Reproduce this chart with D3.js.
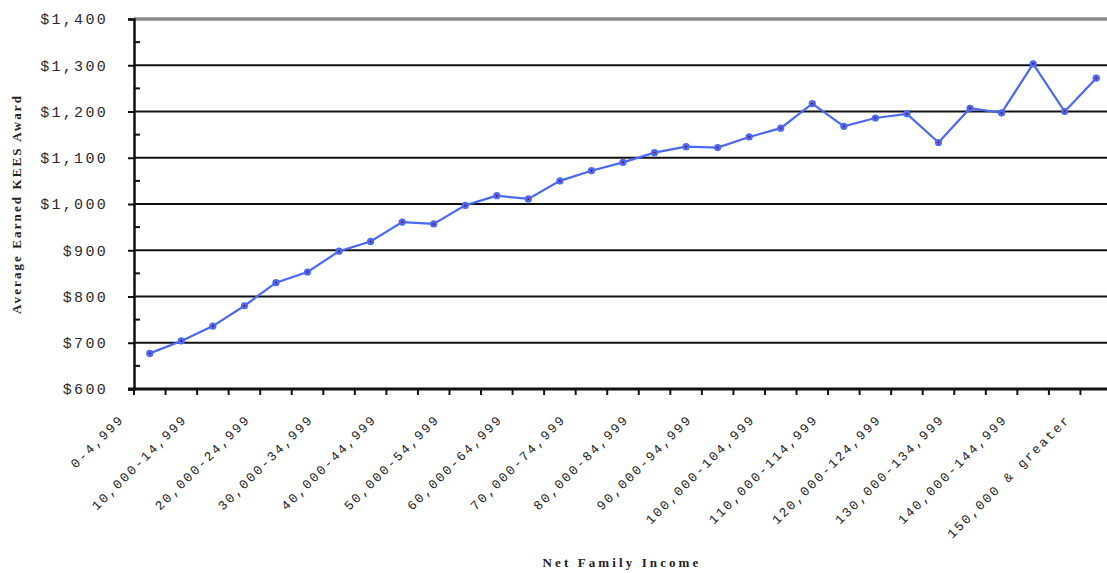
<!DOCTYPE html>
<html>
<head>
<meta charset="utf-8">
<script src="https://cdn.jsdelivr.net/npm/d3@7"></script>
<style>
  html, body { margin: 0; padding: 0; background: #fff; overflow: hidden; }
  svg { display: block; }
</style>
</head>
<body>
<svg id="chart" width="1107" height="573"></svg>
<script>
// Income brackets (x categories)
const categories = [
  "0-4,999", "5,000-9,999", "10,000-14,999", "15,000-19,999", "20,000-24,999",
  "25,000-29,999", "30,000-34,999", "35,000-39,999", "40,000-44,999", "45,000-49,999",
  "50,000-54,999", "55,000-59,999", "60,000-64,999", "65,000-69,999", "70,000-74,999",
  "75,000-79,999", "80,000-84,999", "85,000-89,999", "90,000-94,999", "95,000-99,999",
  "100,000-104,999", "105,000-109,999", "110,000-114,999", "115,000-119,999", "120,000-124,999",
  "125,000-129,999", "130,000-134,999", "135,000-139,999", "140,000-144,999", "145,000-149,999",
  "150,000 & greater"
];

// Average earned award per bracket (dollars)
const awards = [
  677, 704, 736, 780, 830, 853, 898, 919, 961, 957,
  997, 1018, 1011, 1050, 1072, 1090, 1111, 1124, 1122, 1145,
  1164, 1217, 1168, 1186, 1195, 1133, 1207, 1197, 1303, 1200,
  1272
];

// Labelled brackets on the x axis (every other one)
const xTickLabels = categories.filter((d, i) => i % 2 === 0);

// Y axis ticks
const yTicks = [600, 700, 800, 900, 1000, 1100, 1200, 1300, 1400];
const yMinorTicks = [650, 750, 850, 950, 1050, 1150, 1250, 1350];

const svg = d3.select("#chart");
const plotLeft = 134, plotRight = 1112, plotTop = 19, plotBottom = 389;

const x = d3.scaleBand().domain(categories).range([plotLeft, plotRight]).padding(0);
const y = d3.scaleLinear().domain([600, 1400]).range([plotBottom, plotTop]);
const money = v => "$" + d3.format(",")(v);

// Horizontal gridlines
svg.append("g")
  .selectAll("line")
  .data(yTicks.filter(v => v > 600))
  .join("line")
  .attr("x1", plotLeft).attr("x2", 1107)
  .attr("y1", d => y(d)).attr("y2", d => y(d))
  .attr("stroke", d => d === 1400 ? "#8a8a8a" : "#111")
  .attr("stroke-width", d => d === 1400 ? 3.5 : 2);

// Y axis with major ticks pointing outward
const yAxis = svg.append("g")
  .attr("transform", `translate(${plotLeft},0)`)
  .call(d3.axisLeft(y).tickValues(yTicks).tickFormat(money).tickSize(6).tickPadding(20));
yAxis.select(".domain").attr("stroke", "#111").attr("stroke-width", 2.5);
yAxis.selectAll(".tick line").attr("stroke", "#111").attr("stroke-width", 2);
yAxis.selectAll(".tick text")
  .attr("font-family", "Liberation Mono, DejaVu Sans Mono, monospace")
  .attr("font-size", 15)
  .attr("letter-spacing", 2.3)
  .attr("fill", "#2a2a2a");

// Minor ticks on the inside of the y axis
svg.append("g")
  .selectAll("line")
  .data(yMinorTicks)
  .join("line")
  .attr("x1", plotLeft).attr("x2", plotLeft + 6)
  .attr("y1", d => y(d)).attr("y2", d => y(d))
  .attr("stroke", "#111").attr("stroke-width", 2);

// X axis: ticks at bracket boundaries
const xAxisG = svg.append("g").attr("transform", `translate(0,${plotBottom})`);
xAxisG.append("line")
  .attr("x1", plotLeft - 6).attr("x2", 1107)
  .attr("y1", 0).attr("y2", 0)
  .attr("stroke", "#111").attr("stroke-width", 3);
xAxisG.selectAll("line.tick")
  .data(categories)
  .join("line")
  .attr("class", "tick")
  .attr("x1", d => x(d)).attr("x2", d => x(d))
  .attr("y1", 0).attr("y2", 6)
  .attr("stroke", "#111").attr("stroke-width", 2);

// Rotated bracket labels
xAxisG.selectAll("text")
  .data(xTickLabels)
  .join("text")
  .attr("transform", d => `translate(${x(d) + x.bandwidth() / 2 - 25},${31}) rotate(-45)`)
  .attr("text-anchor", "end")
  .attr("font-family", "Liberation Mono, DejaVu Sans Mono, monospace")
  .attr("font-size", 13)
  .attr("letter-spacing", 2.1)
  .attr("fill", "#222")
  .text(d => d);

// Axis titles
svg.append("text")
  .attr("transform", `translate(21,${(plotTop + plotBottom) / 2}) rotate(-90)`)
  .attr("text-anchor", "middle")
  .attr("font-family", "Liberation Serif, Times New Roman, serif")
  .attr("font-weight", "bold")
  .attr("font-size", 13)
  .attr("letter-spacing", 2.1)
  .attr("fill", "#222")
  .text("Average Earned KEES Award");

svg.append("text")
  .attr("x", 622).attr("y", 567)
  .attr("text-anchor", "middle")
  .attr("font-family", "Liberation Serif, Times New Roman, serif")
  .attr("font-weight", "bold")
  .attr("font-size", 13)
  .attr("letter-spacing", 3.1)
  .attr("fill", "#222")
  .text("Net Family Income");

// Series line and markers
const cx = d => x(d) + x.bandwidth() / 2;
const line = d3.line()
  .x((d, i) => cx(categories[i]))
  .y(d => y(d));

svg.append("path")
  .datum(awards)
  .attr("d", line)
  .attr("fill", "none")
  .attr("stroke", "#4a68f8")
  .attr("stroke-width", 2.2);

const pts = svg.append("g")
  .selectAll("g")
  .data(awards)
  .join("g")
  .attr("transform", (d, i) => `translate(${cx(categories[i])},${y(d)})`);
pts.append("circle").attr("r", 3.6).attr("fill", "#4a68f8");
pts.append("circle").attr("r", 1).attr("fill", "#7a1030");
</script>
</body>
</html>
